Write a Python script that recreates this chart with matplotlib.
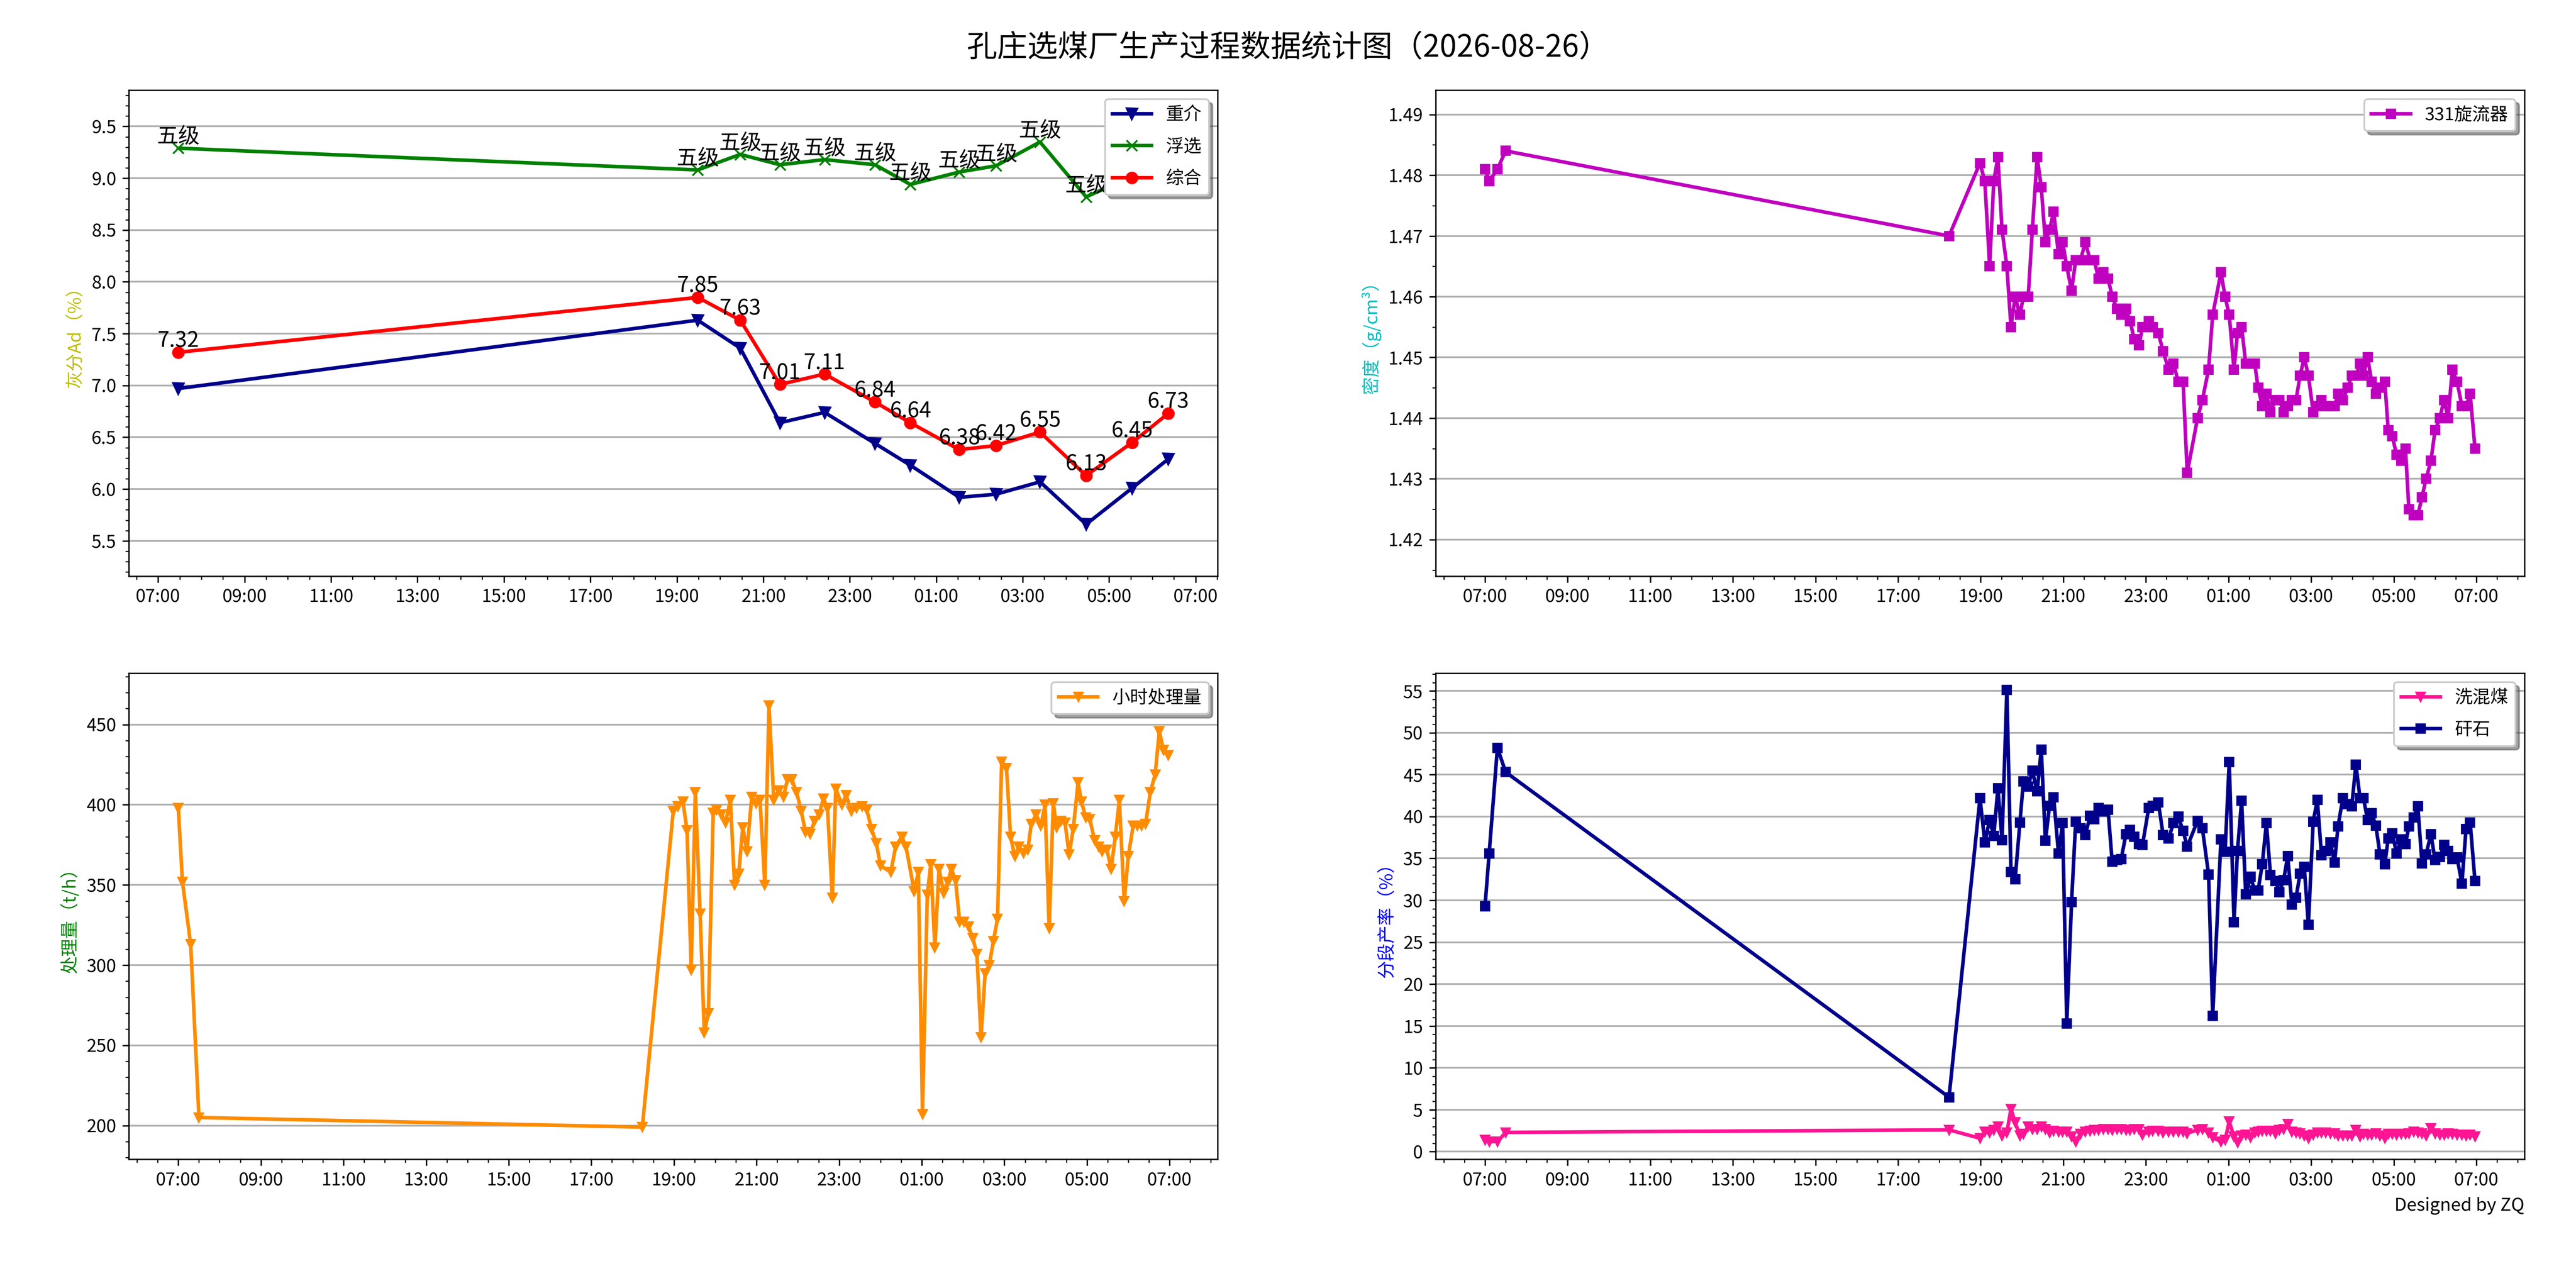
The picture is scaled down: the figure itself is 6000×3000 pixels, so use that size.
import datetime as dt
import matplotlib
matplotlib.use('Agg')
import matplotlib.pyplot as plt
import matplotlib.dates as mdates
from matplotlib.ticker import MultipleLocator, AutoMinorLocator

plt.rcParams['font.family'] = ['Noto Sans CJK SC', 'DejaVu Sans']
plt.rcParams['axes.unicode_minus'] = False

report_day = dt.datetime(2026, 8, 26)
title = '孔庄选煤厂生产过程数据统计图（2026-08-26）'

# 灰分 (hourly samples)
ash_times = ['07:28', '19:29', '20:28', '21:23', '22:25', '23:35', '00:24',
             '01:32', '02:23', '03:24', '04:28', '05:32', '06:22']
ash_zj = [6.97, 7.63, 7.36, 6.64, 6.74, 6.44, 6.23, 5.92, 5.95, 6.07, 5.66, 6.01, 6.29]
ash_fx = [9.29, 9.08, 9.23, 9.13, 9.18, 9.13, 8.94, 9.06, 9.12, 9.35, 8.82, 9.02, 9.10]
ash_zh = [7.32, 7.85, 7.63, 7.01, 7.11, 6.84, 6.64, 6.38, 6.42, 6.55, 6.13, 6.45, 6.73]
fx_grade = ['五级'] * len(ash_fx)

# process data (density, throughput, yields share the same timestamps)
proc_times = [
    '07:00', '07:06', '07:18', '07:30', '18:14',
    '18:59', '19:06', '19:13', '19:19', '19:25', '19:31', '19:38', '19:44', '19:50', '19:57',
    '20:02', '20:09', '20:15', '20:22', '20:28', '20:34', '20:40', '20:46', '20:53', '20:59',
    '21:05', '21:12', '21:18', '21:25', '21:32', '21:39', '21:45', '21:51', '21:58', '22:05',
    '22:11', '22:18', '22:24', '22:31', '22:37', '22:43', '22:50', '22:55', '23:04', '23:10',
    '23:18', '23:25', '23:33', '23:40', '23:47', '23:54', '00:00', '00:15', '00:22', '00:31',
    '00:37', '00:49', '00:55', '01:01',
    '01:08', '01:13', '01:19', '01:25', '01:32', '01:38', '01:43', '01:49', '01:55', '02:01',
    '02:08', '02:14', '02:20', '02:26', '02:32', '02:38', '02:44', '02:50', '02:56', '03:03',
    '03:09', '03:15', '03:21', '03:28', '03:34', '03:39', '03:46', '03:53', '03:59', '04:05',
    '04:11', '04:16', '04:22', '04:28', '04:34', '04:40', '04:47', '04:52', '04:58', '05:04',
    '05:11', '05:17', '05:22', '05:29', '05:35', '05:41', '05:47', '05:54', '06:00', '06:07',
    '06:13', '06:19', '06:25', '06:32', '06:39', '06:45', '06:51', '06:58']

density = [
    1.481, 1.479, 1.481, 1.484, 1.470,
    1.482, 1.479, 1.465, 1.479, 1.483, 1.471, 1.465, 1.455, 1.460, 1.457,
    1.460, 1.460, 1.471, 1.483, 1.478, 1.469, 1.471, 1.474, 1.467, 1.469,
    1.465, 1.461, 1.466, 1.466, 1.469, 1.466, 1.466, 1.463, 1.464, 1.463,
    1.460, 1.458, 1.457, 1.458, 1.456, 1.453, 1.452, 1.455, 1.456, 1.455,
    1.454, 1.451, 1.448, 1.449, 1.446, 1.446, 1.431, 1.440, 1.443, 1.448,
    1.457, 1.464, 1.460, 1.457,
    1.448, 1.454, 1.455, 1.449, 1.449, 1.449, 1.445, 1.442, 1.444, 1.441,
    1.443, 1.443, 1.441, 1.442, 1.443, 1.443, 1.447, 1.450, 1.447, 1.441,
    1.442, 1.443, 1.442, 1.442, 1.442, 1.444, 1.443, 1.445, 1.447, 1.447,
    1.449, 1.447, 1.450, 1.446, 1.444, 1.445, 1.446, 1.438, 1.437, 1.434,
    1.433, 1.435, 1.425, 1.424, 1.424, 1.427, 1.430, 1.433, 1.438, 1.440,
    1.443, 1.440, 1.448, 1.446, 1.442, 1.442, 1.444, 1.435]

throughput = [
    398, 352, 313, 205, 199,
    396, 399, 402, 384, 297, 408, 332, 258, 270, 395,
    397, 394, 389, 403, 350, 357, 386, 371, 405, 401,
    403, 350, 462, 403, 409, 405, 416, 416, 408, 396,
    383, 382, 390, 394, 404, 398, 342, 410, 400, 406,
    396, 398, 399, 397, 385, 376, 362, 358, 374, 380,
    374, 346, 358, 207,
    344, 363, 311, 360, 345, 352, 360, 353, 327, 327,
    324, 317, 307, 255, 295, 300, 315, 329, 427, 423,
    380, 368, 374, 370, 372, 388, 394, 387, 400, 323,
    401, 386, 390, 389, 369, 385, 414, 402, 392, 391,
    378, 374, 371, 372, 360, 380, 403, 340, 368, 387,
    387, 387, 388, 408, 419, 446, 434, 431]

yield_gangue = [
    29.3, 35.6, 48.2, 45.3, 6.5,
    42.2, 36.9, 39.6, 37.7, 43.4, 37.2, 55.1, 33.4, 32.5, 39.3,
    44.2, 43.6, 45.5, 43.0, 48.0, 37.1, 41.3, 42.3, 35.6, 39.2,
    15.3, 29.8, 39.4, 38.6, 37.8, 40.1, 39.7, 41.0, 40.6, 40.8,
    34.6, 34.8, 34.9, 37.9, 38.4, 37.6, 36.7, 36.6, 41.0, 41.3,
    41.7, 37.8, 37.4, 39.2, 40.0, 38.3, 36.4, 39.5, 38.6, 33.1,
    16.2, 37.3, 35.8, 46.5,
    27.4, 35.9, 41.9, 30.7, 32.8, 31.2, 31.2, 34.3, 39.2, 33.0,
    32.3, 31.0, 32.4, 35.3, 29.5, 30.3, 33.2, 34.0, 27.1, 39.4,
    42.0, 35.4, 35.9, 36.9, 34.5, 38.8, 42.2, 41.5, 41.2, 46.2,
    42.2, 42.2, 39.6, 40.4, 38.9, 35.5, 34.3, 37.4, 38.0, 35.6,
    37.3, 36.7, 38.8, 39.9, 41.2, 34.4, 35.5, 37.9, 34.8, 35.2,
    36.6, 35.9, 34.9, 35.1, 32.0, 38.5, 39.3, 32.3]

yield_mixed = [
    1.4, 1.2, 1.2, 2.3, 2.6,
    1.6, 2.4, 2.3, 2.6, 3.0, 1.9, 2.3, 5.1, 3.5, 1.9,
    2.1, 3.0, 2.7, 2.7, 3.0, 2.7, 2.3, 2.5, 2.4, 2.4,
    2.4, 1.8, 1.2, 2.1, 2.4, 2.5, 2.6, 2.6, 2.7, 2.7,
    2.6, 2.7, 2.7, 2.6, 2.6, 2.7, 2.7, 2.0, 2.4, 2.5,
    2.5, 2.3, 2.4, 2.4, 2.4, 2.4, 2.2, 2.6, 2.7, 2.3,
    1.7, 1.2, 1.4, 3.6,
    1.8, 1.1, 1.9, 2.0, 1.7, 2.3, 2.4, 2.5, 2.5, 2.5,
    2.2, 2.6, 2.7, 3.3, 2.4, 2.3, 2.2, 1.9, 1.6, 2.0,
    2.3, 2.3, 2.3, 2.2, 2.2, 1.9, 1.9, 1.9, 1.9, 2.6,
    1.8, 2.1, 2.0, 2.0, 2.2, 1.9, 1.6, 2.1, 2.1, 2.0,
    2.1, 2.1, 2.2, 2.4, 2.3, 2.2, 1.9, 2.8, 2.2, 2.0,
    2.0, 2.2, 2.1, 2.0, 2.0, 1.9, 2.0, 1.8]


def to_time(s):
    # shift runs from 07:00 to 07:00 next day
    h, m = map(int, s.split(':'))
    t = report_day + dt.timedelta(hours=h, minutes=m)
    if h < 7:
        t += dt.timedelta(days=1)
    return t


ash_t = [to_time(s) for s in ash_times]
proc_t = [to_time(s) for s in proc_times]


def style_axis(ax):
    ax.xaxis.set_major_locator(mdates.HourLocator(byhour=range(1, 24, 2)))
    ax.xaxis.set_minor_locator(mdates.MinuteLocator(byminute=[0, 30]))
    ax.xaxis.set_major_formatter(mdates.DateFormatter('%H:%M'))
    ax.grid(axis='y', color='#b0b0b0', linewidth=1.0)
    ax.set_axisbelow(True)
    ax.legend(loc='upper right', shadow=True, fancybox=True, framealpha=1,
              labelspacing=0.8, handlelength=2.2)


fig, axes = plt.subplots(2, 2, figsize=(20, 10), dpi=300)
plt.subplots_adjust(left=0.05, right=0.98, bottom=0.1, top=0.93)
fig.suptitle(title, fontsize=17, y=0.975)

# 灰分
ax = axes[0, 0]
ax.plot(ash_t, ash_zj, color='darkblue', marker='v', markersize=6, lw=2, label='重介')
ax.plot(ash_t, ash_fx, color='green', marker='x', markersize=6, lw=2, label='浮选')
ax.plot(ash_t, ash_zh, color='red', marker='o', markersize=6, lw=2, label='综合')
for t, v, g in zip(ash_t, ash_fx, fx_grade):
    ax.text(t, v, g, ha='center', va='bottom', fontsize=12)
for t, v in zip(ash_t, ash_zh):
    ax.text(t, v, f'{v:.2f}', ha='center', va='bottom', fontsize=12)
all_ash = ash_zj + ash_fx + ash_zh
ax.set_ylim(min(all_ash) - 0.5, max(all_ash) + 0.5)
ax.yaxis.set_major_locator(MultipleLocator(0.5))
ax.yaxis.set_minor_locator(AutoMinorLocator(5))
ax.set_ylabel('灰分Ad（%）', color='y')
style_axis(ax)

# 密度
ax = axes[0, 1]
ax.plot(proc_t, density, color='m', marker='s', markersize=5, lw=2, label='331旋流器')
ax.set_ylim(min(density) - 0.01, max(density) + 0.01)
ax.yaxis.set_major_locator(MultipleLocator(0.01))
ax.yaxis.set_minor_locator(AutoMinorLocator(2))
ax.set_ylabel('密度（g/cm³）', color='c')
style_axis(ax)

# 处理量
ax = axes[1, 0]
ax.plot(proc_t, throughput, color='darkorange', marker='v', markersize=5, lw=2, label='小时处理量')
ax.set_ylim(min(throughput) - 20, max(throughput) + 20)
ax.yaxis.set_major_locator(MultipleLocator(50))
ax.yaxis.set_minor_locator(AutoMinorLocator(5))
ax.set_ylabel('处理量（t/h）', color='g')
style_axis(ax)

# 分段产率
ax = axes[1, 1]
ax.plot(proc_t, yield_mixed, color='deeppink', marker='v', markersize=5, lw=2, label='洗混煤')
ax.plot(proc_t, yield_gangue, color='darkblue', marker='s', markersize=5, lw=2, label='矸石')
all_yield = yield_mixed + yield_gangue
ax.set_ylim(min(all_yield) - 2, max(all_yield) + 2)
ax.yaxis.set_major_locator(MultipleLocator(5))
ax.yaxis.set_minor_locator(AutoMinorLocator(5))
ax.set_ylabel('分段产率（%）', color='b')
style_axis(ax)

fig.text(0.98, 0.064, 'Designed by ZQ', ha='right', va='center', fontsize=10)

fig.savefig('out.png', dpi=300)
